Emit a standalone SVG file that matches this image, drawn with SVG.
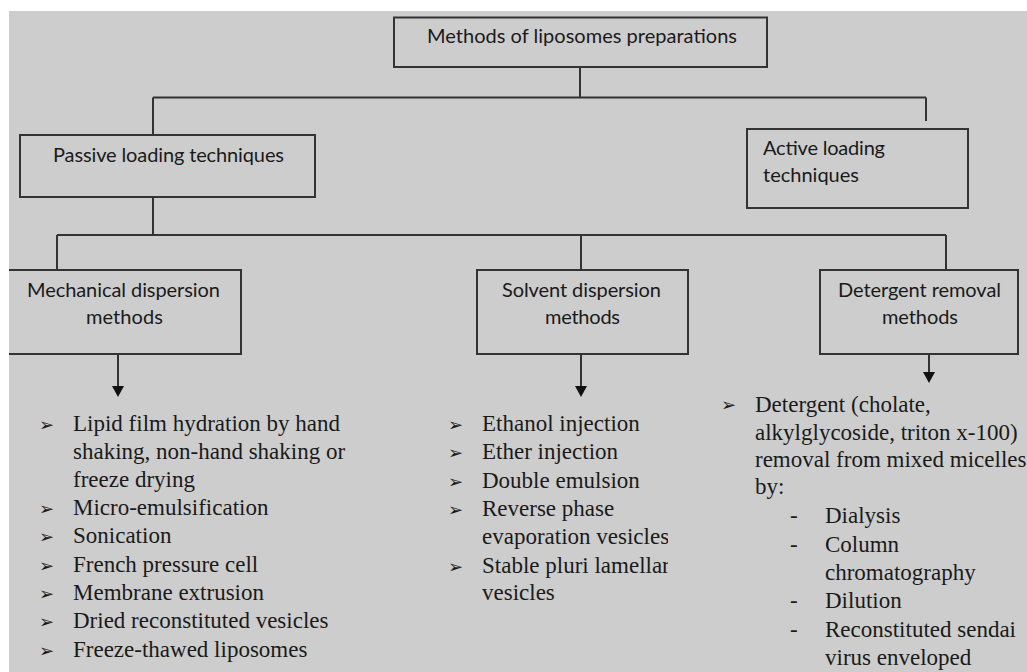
<svg xmlns="http://www.w3.org/2000/svg" width="1027" height="672" viewBox="0 0 1027 672">
<style>
.box{fill:none;stroke:#333;stroke-width:2}
.ln{fill:none;stroke:#333;stroke-width:2}
.sans{font-family:Lato,"Liberation Sans",sans-serif;font-size:20px;fill:#1a1a1a}
.ser{font-family:"Liberation Serif","Times New Roman",serif;font-size:23px;fill:#1a1a1a}
.bul{font-family:"DejaVu Sans",sans-serif;font-size:18px;fill:#1a1a1a}
</style>
<defs>
<clipPath id="clipSol"><rect x="440" y="400" width="228" height="272"/></clipPath>
</defs>
<rect x="0" y="0" width="1027" height="672" fill="#fff"/>
<rect x="9" y="11" width="1018" height="661" fill="#cdcdcd"/>

<g id="connectors">
<path class="ln" d="M580,67 V97.5 M153,97.5 H926 M926,97.5 V121 M153,97.5 V135"/>
<path class="ln" d="M153,197 V235 M57,235 H946 M57,235 V270 M581,235 V270 M946,235 V270"/>
<line class="ln" x1="118" y1="354" x2="118" y2="386"/>
<path d="M112,386 L124,386 L118,397 Z" fill="#111"/>
<line class="ln" x1="581" y1="354" x2="581" y2="386"/>
<path d="M575,386 L587,386 L581,397 Z" fill="#111"/>
<line class="ln" x1="929" y1="354" x2="929" y2="372"/>
<path d="M923,372 L935,372 L929,383 Z" fill="#111"/>
</g>

<g id="root">
<rect class="box" x="394" y="17.5" width="373" height="49.5"/>
<text class="sans" x="427" y="43" textLength="310">Methods of liposomes preparations</text>
</g>

<g id="passive">
<rect class="box" x="20" y="135" width="295" height="62"/>
<text class="sans" x="53" y="162" textLength="231">Passive loading techniques</text>
</g>

<g id="active">
<rect class="box" x="747" y="129" width="221" height="79"/>
<text class="sans" x="763" y="155" textLength="122">Active loading</text>
<text class="sans" x="763" y="182" textLength="96">techniques</text>
</g>

<g id="mechanical">
<path class="box" d="M9,270 H241 V354 H9"/>
<text class="sans" x="27" y="297" textLength="193">Mechanical dispersion</text>
<text class="sans" x="86" y="324" textLength="77">methods</text>
</g>

<g id="solvent">
<rect class="box" x="477" y="270" width="211" height="84"/>
<text class="sans" x="502" y="297" textLength="159">Solvent dispersion</text>
<text class="sans" x="545" y="324" textLength="75">methods</text>
</g>

<g id="detergent">
<rect class="box" x="820" y="270" width="198" height="84"/>
<text class="sans" x="838" y="297" textLength="163">Detergent removal</text>
<text class="sans" x="882" y="324" textLength="76">methods</text>
</g>

<g id="mechanical-list">
<g class="bul">
<text x="39" y="431">➢</text>
<text x="39" y="515">➢</text>
<text x="39" y="543">➢</text>
<text x="39" y="572">➢</text>
<text x="39" y="600">➢</text>
<text x="39" y="628">➢</text>
<text x="39" y="657">➢</text>
</g>
<g class="ser">
<text x="73" y="431">Lipid film hydration by hand</text>
<text x="73" y="459">shaking, non-hand shaking or</text>
<text x="73" y="487">freeze drying</text>
<text x="73" y="515">Micro-emulsification</text>
<text x="73" y="543">Sonication</text>
<text x="73" y="572">French pressure cell</text>
<text x="73" y="600">Membrane extrusion</text>
<text x="73" y="628">Dried reconstituted vesicles</text>
<text x="73" y="657">Freeze-thawed liposomes</text>
</g>
</g>

<g id="solvent-list">
<g class="bul">
<text x="448" y="431">➢</text>
<text x="448" y="459">➢</text>
<text x="448" y="488">➢</text>
<text x="448" y="516">➢</text>
<text x="448" y="573">➢</text>
</g>
<g class="ser" clip-path="url(#clipSol)">
<text x="482" y="431">Ethanol injection</text>
<text x="482" y="459">Ether injection</text>
<text x="482" y="488">Double emulsion</text>
<text x="482" y="516">Reverse phase</text>
<text x="482" y="544">evaporation vesicles</text>
<text x="482" y="573">Stable pluri lamellar</text>
<text x="482" y="600">vesicles</text>
</g>
</g>

<g id="detergent-list">
<text class="bul" x="721" y="411">➢</text>
<g class="ser">
<text x="755" y="412">Detergent (cholate,</text>
<text x="755" y="440">alkylglycoside, triton x-100)</text>
<text x="755" y="467">removal from mixed micelles</text>
<text x="755" y="494">by:</text>
<text x="790" y="523">-</text>
<text x="825" y="523">Dialysis</text>
<text x="790" y="552">-</text>
<text x="825" y="552">Column</text>
<text x="825" y="580">chromatography</text>
<text x="790" y="608">-</text>
<text x="825" y="608">Dilution</text>
<text x="790" y="637">-</text>
<text x="825" y="637">Reconstituted sendai</text>
<text x="825" y="665">virus enveloped</text>
</g>
</g>
</svg>
